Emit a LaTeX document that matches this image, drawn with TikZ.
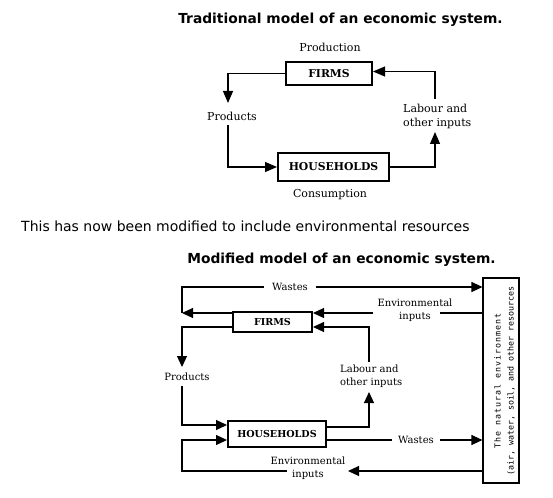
\documentclass[tikz,border=0pt]{standalone}
\usepackage{fontspec}
\usetikzlibrary{arrows.meta}
\newfontfamily\serifd{DejaVu Serif}
\newfontfamily\sansd{DejaVu Sans}
\newfontfamily\monod{DejaVu Sans Mono}
\newfontfamily\monosp[LetterSpace=12]{DejaVu Sans Mono}
\begin{document}
\begin{tikzpicture}[x=1pt,y=-1pt,
  ttl/.style={font=\sansd\bfseries\fontsize{13.8}{16}\selectfont, inner sep=0pt},
  intro/.style={font=\sansd\fontsize{14}{16}\selectfont, inner sep=0pt},
  lblA/.style={font=\serifd\fontsize{11}{14}\selectfont, inner sep=0pt},
  lblB/.style={font=\serifd\fontsize{10}{13}\selectfont, inner sep=0pt},
  boxA/.style={draw, line width=2pt, font=\serifd\bfseries\fontsize{10.8}{12}\selectfont, inner sep=0pt},
  boxB/.style={draw, line width=2pt, font=\serifd\bfseries\fontsize{9.6}{11}\selectfont, inner sep=0pt},
  arrA/.style={line width=1.1pt, -{Triangle[length=12pt,width=10pt]}},
  arrB/.style={line width=1.1pt, -{Triangle[length=11pt,width=10pt]}},
  lnB/.style={line width=1.1pt}
]
\useasboundingbox (0,0) rectangle (553,497);

% ---------- top diagram ----------
\node[ttl] (t1) at (340.5,20) {Traditional model of an economic system.};
\node[lblA] (prod) at (330,47) {Production};
\node[boxA, minimum width=86pt, minimum height=23pt] (f1) at (329,73.5) {FIRMS};
\node[boxA, minimum width=111pt, minimum height=28pt] (h1) at (333.5,167) {HOUSEHOLDS};
\node[lblA] (cons) at (330,195) {Consumption};
\node[lblA] (p1) at (232,116) {Products};
\node[lblA, align=left, anchor=west] (l1) at (403,116) {Labour and\\other inputs};

\coordinate (c1) at (228,103);
\coordinate (c2) at (228,125);
\coordinate (c3) at (435,132);
\coordinate (c4) at (435,99);

\draw[arrA] (f1.west) -| (c1);
\draw[arrA] (c2) |- (h1.west);
\draw[arrA] (h1.east) -| (c3);
\draw[arrA] (c4) |- ([yshift=2pt]f1.east);

% ---------- text ----------
\node[intro, anchor=west] (intro) at (21,226) {This has now been modified to include environmental resources};
\node[ttl] (t2) at (341.5,260) {Modified model of an economic system.};

% ---------- bottom diagram ----------
\node[draw, line width=1.1pt, minimum width=36pt, minimum height=205pt, inner sep=0pt] (env) at (501,380.5) {};
\node[rotate=90, align=center, inner sep=0pt, font=\monod\fontsize{8.3}{13}\selectfont] (envt) at (504.5,381)
  {{\monosp The natural environment}\\(air, water, soil, and other resources};

\node[boxB, minimum width=79pt, minimum height=20pt] (f2) at (272.5,322) {FIRMS};
\node[boxB, minimum width=98pt, minimum height=26pt] (h2) at (277,434) {HOUSEHOLDS};

\node[lblB, inner xsep=8pt] (wt) at (290,287) {Wastes};
\node[lblB, inner xsep=6pt] (wb) at (416,440) {Wastes};
\node[lblB, align=center] (ei1) at (415,310.5) {Environmental\\inputs};
\node[lblB, align=center] (ei2) at (308,468.5) {Environmental\\inputs};
\node[lblB] (p2) at (187,377) {Products};
\node[lblB, align=left, anchor=west] (l2) at (340,376.5) {Labour and\\other inputs};

\coordinate (cw) at (182,313);
\coordinate (eil) at (373,313);
\coordinate (eir) at (440,313);
\coordinate (cp1) at (182,367);
\coordinate (cp2) at (182,386);
\coordinate (cl1) at (369,362);
\coordinate (cl2) at (369,392);
\coordinate (cea) at (348,471);
\coordinate (cel) at (287,471);

% wastes (top)
\draw[arrB] ([yshift=9pt]f2.west) -- (cw);
\draw[lnB] (cw) -- (cw |- wt) -- (wt.west);
\draw[arrB] (wt.east) -- (wt.east -| env.west);
% environmental inputs (top)
\draw[lnB] (eir -| env.west) -- (eir);
\draw[arrB] (eil) -- ([yshift=9pt]f2.east);
% labour
\draw[arrB] (cl1) |- ([yshift=-5pt]f2.east);
\draw[arrB] ([yshift=7pt]h2.east) -| (cl2);
% products
\draw[arrB] ([yshift=-5pt]f2.west) -| (cp1);
\draw[arrB] (cp2) |- ([yshift=9pt]h2.west);
% wastes (bottom)
\draw[lnB] ([yshift=-6pt]h2.east) -- (wb.west);
\draw[arrB] (wb.east) -- (wb.east -| env.west);
% environmental inputs (bottom)
\draw[arrB] (cea -| env.west) -- (cea);
\draw[arrB] (cel) -- (cel -| cw) |- ([yshift=-6pt]h2.west);
\end{tikzpicture}
\end{document}
